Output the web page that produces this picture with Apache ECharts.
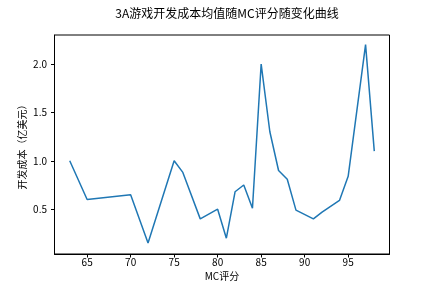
<!DOCTYPE html>
<html>
<head>
<meta charset="utf-8">
<script src="https://cdn.jsdelivr.net/npm/echarts@6/dist/echarts.min.js"></script>
<style>html,body{margin:0;padding:0;background:#fff;}#c{width:432px;height:288px;}</style>
</head>
<body>
<div id="c"></div>
<script>
const mcScores = [63, 65, 70, 72, 75, 76, 78, 80, 81, 82, 83, 84, 85, 86, 87, 88, 89, 91, 92, 94, 95, 97, 98];
const avgCost = [1.0, 0.6, 0.65, 0.15, 1.0, 0.88, 0.4, 0.5, 0.2, 0.68, 0.75, 0.51, 2.0, 1.3, 0.9, 0.81, 0.49, 0.4, 0.47, 0.59, 0.84, 2.2, 1.1];
const xTicks = [65, 70, 75, 80, 85, 90, 95];
const yTicks = [0.5, 1.0, 1.5, 2.0];
const titleText = '3A游戏开发成本均值随MC评分随变化曲线';
const xName = 'MC评分';
const yName = '开发成本（亿美元）';

const font = '"Noto Sans CJK SC", "DejaVu Sans", sans-serif';
const chart = echarts.init(document.getElementById('c'), null, {renderer: 'canvas'});
chart.setOption({
  animation: false,
  backgroundColor: '#fff',
  title: {
    text: titleText, left: 222, top: 2, textAlign: 'center',
    textStyle: {fontSize: 12, fontWeight: 'normal', color: '#000', fontFamily: font}
  },
  grid: {left: 54.5, right: 42.5, top: 35, bottom: 34, show: true, borderColor: '#000', borderWidth: 1, backgroundColor: 'transparent'},
  xAxis: {
    type: 'value', min: 61.25, max: 99.75,
    name: xName, nameLocation: 'middle', nameGap: 17, nameMoveOverlap: false,
    nameTextStyle: {fontSize: 10, color: '#000', fontFamily: font},
    axisLine: {show: true, onZero: false, lineStyle: {color: '#000', width: 1}},
    axisTick: {show: true, length: 3.5, inside: false, customValues: xTicks, lineStyle: {color: '#000'}},
    axisLabel: {customValues: xTicks, fontSize: 10, color: '#000', margin: 3.5, fontFamily: font},
    splitLine: {show: false}
  },
  yAxis: {
    type: 'value', min: 0.037, max: 2.30,
    name: yName, nameLocation: 'middle', nameGap: 27, nameRotate: 90, nameMoveOverlap: false,
    nameTextStyle: {fontSize: 10, color: '#000', fontFamily: font},
    axisLine: {show: true, onZero: false, lineStyle: {color: '#000', width: 1}},
    axisTick: {show: true, length: 3.5, inside: false, customValues: yTicks, lineStyle: {color: '#000'}},
    axisLabel: {customValues: yTicks, fontSize: 10, color: '#000', margin: 7.5, fontFamily: font,
      formatter: v => v.toFixed(1)},
    splitLine: {show: false}
  },
  series: [{
    type: 'line',
    data: mcScores.map((x, i) => [x, avgCost[i]]),
    showSymbol: false, symbol: 'none',
    lineStyle: {color: '#1f77b4', width: 1.5},
    itemStyle: {color: '#1f77b4'}
  }]
});
</script>
</body>
</html>
